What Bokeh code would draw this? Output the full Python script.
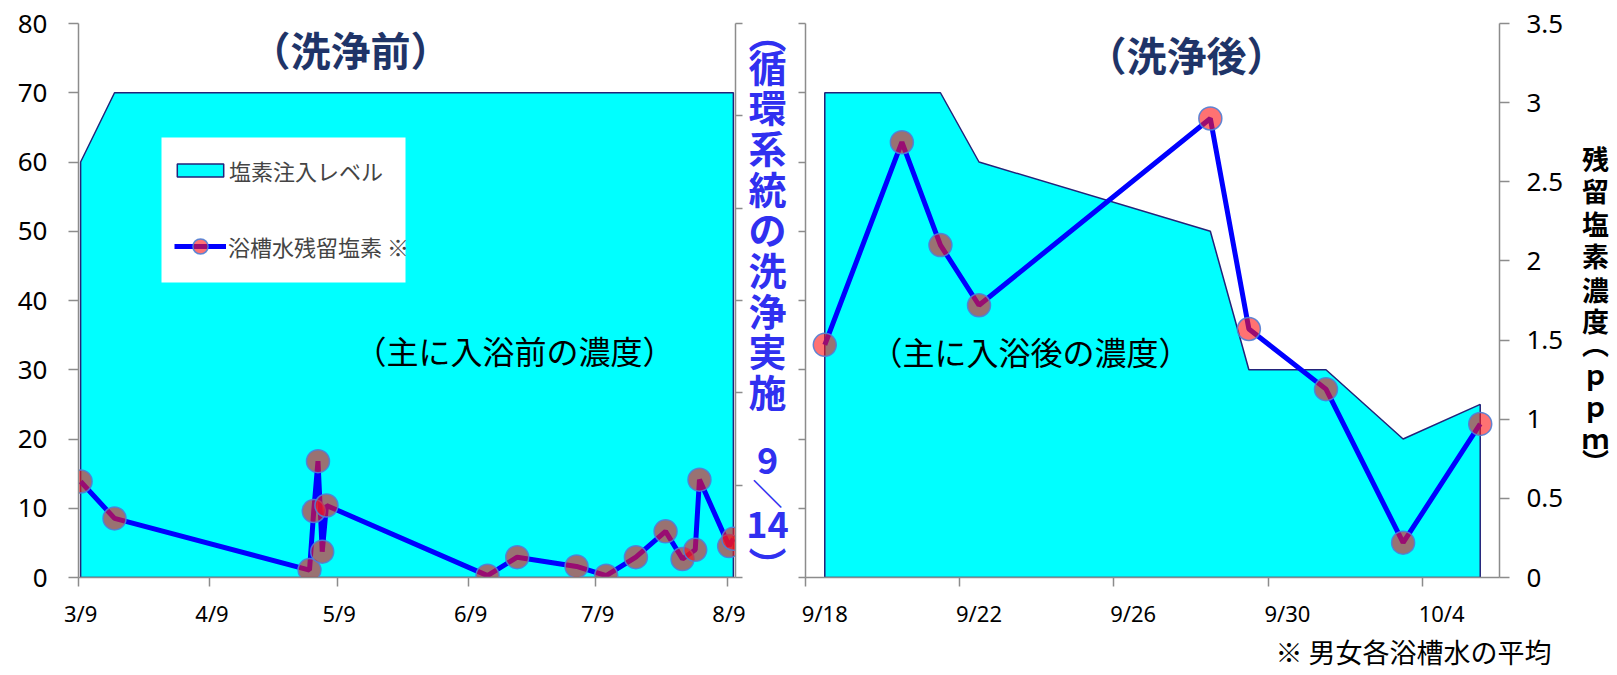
import pandas as pd
from bokeh.plotting import figure
from bokeh.models import (Range1d, LinearAxis, FixedTicker, Label, Legend, LegendItem,
                          BoxAnnotation, NumeralTickFormatter)
from bokeh.layouts import row, column
from bokeh.embed import file_html
from bokeh.resources import INLINE

# ---------------- data ----------------
YEAR = 2014
pre_start, pre_end = "3/9", "8/11"
post_start, post_end = "9/18", "10/6"

pre_level_dates = ["3/9", "3/17", "8/10"]
pre_level_values = [60, 70, 70]

pre_cl_dates = ["3/9", "3/17", "5/2", "5/3", "5/4", "5/5", "5/6", "6/13", "6/20",
                "7/4", "7/11", "7/18", "7/25", "7/29", "8/1", "8/2", "8/9", "8/10"]
pre_cl_values = [0.52, 0.32, 0.04, 0.36, 0.63, 0.14, 0.39, 0.01, 0.11,
                 0.06, 0.01, 0.11, 0.25, 0.10, 0.15, 0.53, 0.17, 0.21]

post_level_dates = ["9/18", "9/21", "9/22", "9/28", "9/29", "10/1", "10/3", "10/5"]
post_level_values = [70, 70, 60, 50, 30, 30, 20, 25]

post_cl_dates = ["9/18", "9/20", "9/21", "9/22", "9/28", "9/29", "10/1", "10/3", "10/5"]
post_cl_values = [1.47, 2.75, 2.10, 1.72, 2.90, 1.57, 1.19, 0.22, 0.97]

pre_tick_labels = ["3/9", "4/9", "5/9", "6/9", "7/9", "8/9"]
post_tick_labels = ["9/18", "9/22", "9/26", "9/30", "10/4"]

level_ticks = [0, 10, 20, 30, 40, 50, 60, 70, 80]
pre_ppm_ticks = [0, 0.5, 1, 1.5, 2, 2.5, 3]
post_ppm_ticks = [0, 0.5, 1, 1.5, 2, 2.5, 3, 3.5]

# ---------------- helpers ----------------
def ts(md):
    m, d = md.split("/")
    return pd.Timestamp(year=YEAR, month=int(m), day=int(d))

def days(md, origin):
    return (ts(md) - ts(origin)).days

def centered(dates, origin):
    # date axis: each day's value sits in the middle of its day slot
    return [days(d, origin) + 0.5 for d in dates]

AX = "#8C8C8C"
FONT_NUM = "Noto Sans"
FONT_JP = "Noto Sans CJK JP"
CYAN = "#00FFFF"
AREA_LINE = "#23237A"
BLUE = "#0000FF"
MK_FILL = "#FF1414"
MK_LINE = "#4F7FD6"
NAVY = "#1F3468"
VBLUE = "#3030F0"

TOP_H = 630          # height of the chart row
FT, FB = 23, 577     # frame top / bottom (page px), shared by every plot in the row
BORDER_T, BORDER_B = FT, TOP_H - FB


def style_axis(ax, ticks, tick_out=10, label_size="26px", standoff=10, labels=True):
    ax.ticker = FixedTicker(ticks=ticks)
    ax.axis_line_color = AX
    ax.axis_line_width = 1.5
    ax.major_tick_line_color = AX
    ax.major_tick_line_width = 1.5
    ax.major_tick_in = 0
    ax.major_tick_out = tick_out
    ax.minor_tick_line_color = None
    ax.major_label_text_font = FONT_NUM
    ax.major_label_text_color = "black"
    ax.major_label_text_font_size = label_size
    ax.major_label_standoff = standoff
    if not labels:
        ax.major_label_overrides = {t: "" for t in ticks}
        ax.major_label_standoff = 0


def style_xaxis(ax, tick_days, labels):
    pos = [d + 0.5 for d in tick_days]
    ax.ticker = FixedTicker(ticks=pos, minor_ticks=tick_days)
    ax.major_label_overrides = {p: l for p, l in zip(pos, labels)}
    ax.axis_line_color = AX
    ax.axis_line_width = 1.5
    ax.major_tick_line_color = None
    ax.major_tick_out = 0
    ax.major_tick_in = 0
    ax.minor_tick_line_color = AX
    ax.minor_tick_line_width = 1.5
    ax.minor_tick_in = 0
    ax.minor_tick_out = 9
    ax.major_label_text_font = FONT_NUM
    ax.major_label_text_font_size = "22px"
    ax.major_label_text_color = "black"
    ax.major_label_standoff = 11


def add_text(p, x, y, text, size, color="black", bold=False, font=FONT_JP):
    p.add_layout(Label(x=x, y=y, text=text, text_font=font, text_font_size=size,
                       text_color=color, text_font_style="bold" if bold else "normal",
                       text_align="center", text_baseline="middle"))


def strip_fig(x0, x1):
    # plain canvas in the chart row; x in page px, y = FB - page px (grows upward)
    f = figure(width=x1 - x0, height=TOP_H, x_range=Range1d(x0, x1), y_range=Range1d(0, FB - FT),
               output_backend="svg", toolbar_location=None,
               x_axis_location=None, y_axis_location=None,
               min_border_left=0, min_border_right=0,
               min_border_top=BORDER_T, min_border_bottom=BORDER_B)
    f.grid.visible = False
    f.outline_line_color = None
    return f

def S_y(py):
    return FB - py


# ---------------- left panel (before cleaning) ----------------
pre_len = days(pre_end, pre_start)
p1 = figure(width=745, height=TOP_H, x_range=Range1d(0, pre_len), y_range=Range1d(0, 80),
            output_backend="svg", toolbar_location=None,
            min_border_left=78, min_border_right=10,
            min_border_top=BORDER_T, min_border_bottom=BORDER_B)
p1.extra_y_ranges = {"ppm": Range1d(0, 3)}
p1.xgrid.visible = False
p1.ygrid.visible = False
p1.outline_line_color = None

lx = centered(pre_level_dates, pre_start)
area1 = p1.patch([lx[0]] + lx + [lx[-1]], [0] + pre_level_values + [0],
                 fill_color=CYAN, line_color=AREA_LINE, line_width=1.5)
line1 = p1.line(centered(pre_cl_dates, pre_start), pre_cl_values, y_range_name="ppm",
                line_color=BLUE, line_width=5)
mk1 = p1.scatter(centered(pre_cl_dates, pre_start), pre_cl_values, y_range_name="ppm",
                 size=23, fill_color=MK_FILL, fill_alpha=0.6, line_color=MK_LINE,
                 line_width=1.5, line_alpha=0.9)

style_xaxis(p1.xaxis[0], [days(t, pre_start) for t in pre_tick_labels], pre_tick_labels)
style_axis(p1.yaxis[0], level_ticks, tick_out=10, label_size="26px", standoff=21)
ax1r = LinearAxis(y_range_name="ppm")
style_axis(ax1r, pre_ppm_ticks, tick_out=7, labels=False)
p1.add_layout(ax1r, "right")

# placement helpers (page pixels -> data units of the panel)
def L_x(px):
    return (px - 78) * pre_len / 657.0

def L_y(py):
    return (FB - py) * 80 / (FB - FT)

# legend box
p1.add_layout(BoxAnnotation(left=L_x(161), right=L_x(405), top=L_y(137), bottom=L_y(282),
                            fill_color="white", fill_alpha=1.0, line_color=None))
leg_a = Legend(items=[LegendItem(label="塩素注入レベル", renderers=[area1])],
               location=(171 - 78, FB - (173 + 13)), glyph_width=58, glyph_height=16,
               label_height=16, label_standoff=0, padding=0, margin=0, spacing=0,
               background_fill_alpha=0, border_line_color=None,
               label_text_font=FONT_JP, label_text_font_size="22px")
leg_b = Legend(items=[LegendItem(label="浴槽水残留塩素 ※", renderers=[line1, mk1])],
               location=(174 - 78, FB - (246 + 19)), glyph_width=52, glyph_height=38,
               label_height=38, label_standoff=2, padding=0, margin=0, spacing=0,
               background_fill_alpha=0, border_line_color=None,
               label_text_font=FONT_JP, label_text_font_size="22px")
p1.add_layout(leg_a)
p1.add_layout(leg_b)

add_text(p1, L_x(350), L_y(48), "（洗浄前）", "40px", color=NAVY, bold=True)
add_text(p1, L_x(514), L_y(349), "（主に入浴前の濃度）", "32px")

# ---------------- middle strip: vertical blue note ----------------
pm = strip_fig(745, 795)
vx = 767
add_text(pm, vx, S_y(31), "︵", "38px", color=VBLUE, bold=True)
for i, ch in enumerate("循環系統の洗浄実施"):
    add_text(pm, vx, S_y(64.5 + 40.7 * i), ch, "38px", color=VBLUE, bold=True)
add_text(pm, vx, S_y(460), "9", "36px", color=VBLUE, bold=True)
add_text(pm, vx, S_y(491), "＼", "30px", color=VBLUE, bold=True)
add_text(pm, vx, S_y(523.5), "14", "36px", color=VBLUE, bold=True)
add_text(pm, vx, S_y(563), "︶", "38px", color=VBLUE, bold=True)

# ---------------- right panel (after cleaning) ----------------
post_len = days(post_end, post_start)
p2 = figure(width=783, height=TOP_H, x_range=Range1d(0, post_len), y_range=Range1d(0, 80),
            output_backend="svg", toolbar_location=None,
            min_border_left=10, min_border_right=79,
            min_border_top=BORDER_T, min_border_bottom=BORDER_B)
p2.extra_y_ranges = {"ppm": Range1d(0, 3.5)}
p2.xgrid.visible = False
p2.ygrid.visible = False
p2.outline_line_color = None

rx = centered(post_level_dates, post_start)
p2.patch([rx[0]] + rx + [rx[-1]], [0] + post_level_values + [0],
         fill_color=CYAN, line_color=AREA_LINE, line_width=1.5)
p2.line(centered(post_cl_dates, post_start), post_cl_values, y_range_name="ppm",
        line_color=BLUE, line_width=5)
p2.scatter(centered(post_cl_dates, post_start), post_cl_values, y_range_name="ppm",
           size=23, fill_color=MK_FILL, fill_alpha=0.6, line_color=MK_LINE,
           line_width=1.5, line_alpha=0.9)

style_xaxis(p2.xaxis[0], [days(t, post_start) for t in post_tick_labels], post_tick_labels)
style_axis(p2.yaxis[0], level_ticks, tick_out=7, labels=False)
ax2r = LinearAxis(y_range_name="ppm", formatter=NumeralTickFormatter(format="0.[0]"))
style_axis(ax2r, post_ppm_ticks, tick_out=10, label_size="26px", standoff=17)
p2.add_layout(ax2r, "right")

def R_x(px):
    return (px - 805) * post_len / 694.0

def R_y(py):
    return (FB - py) * 80 / (FB - FT)

add_text(p2, R_x(1186), R_y(53), "（洗浄後）", "40px", color=NAVY, bold=True)
add_text(p2, R_x(1030), R_y(350), "（主に入浴後の濃度）", "32px")

# ---------------- right strip: ppm axis title (stacked) ----------------
p3 = strip_fig(1578, 1617)
for ch, yy in [("残", 158), ("留", 190), ("塩", 223), ("素", 255), ("濃", 289), ("度", 320),
               ("︵", 343), ("ｐ", 373), ("ｐ", 405), ("ｍ", 437), ("︶", 461)]:
    add_text(p3, 1595, S_y(yy), ch, "27px", bold=True)

# ---------------- footnote strip ----------------
pf = figure(width=1617, height=44, x_range=Range1d(0, 1617), y_range=Range1d(674, 630),
            output_backend="svg", toolbar_location=None,
            x_axis_location=None, y_axis_location=None,
            min_border_left=0, min_border_right=0, min_border_top=0, min_border_bottom=0)
pf.grid.visible = False
pf.outline_line_color = None
add_text(pf, 1413, 651, "※ 男女各浴槽水の平均", "27px")

layout = column(row(p1, pm, p2, p3), pf)
open("out.html", "w").write(file_html(layout, INLINE))
